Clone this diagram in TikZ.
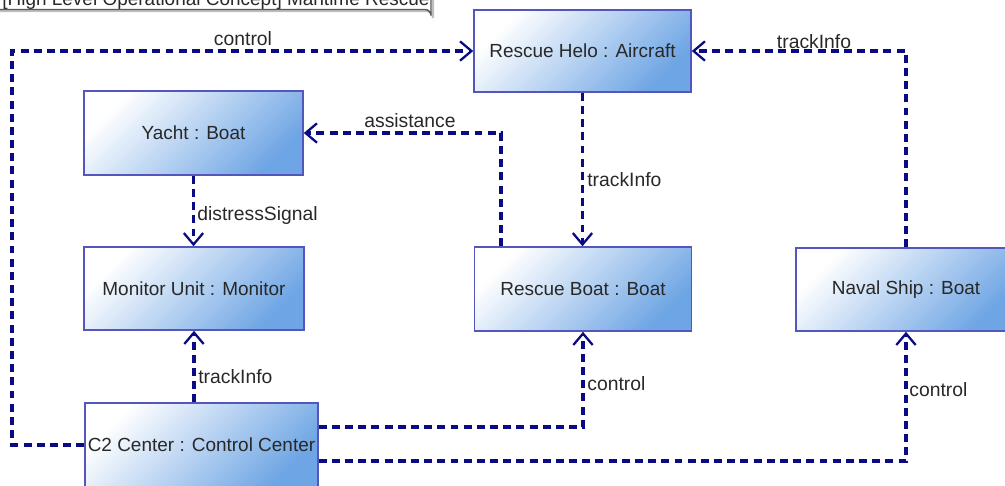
\documentclass[tikz,border=0pt]{standalone}
\usepackage{fontspec}
\setmainfont{Liberation Sans}
\usetikzlibrary{arrows.meta,calc}
\definecolor{navy}{RGB}{10,10,130}
\definecolor{boxblue}{RGB}{110,165,228}
\definecolor{boxedge}{RGB}{85,85,190}
\definecolor{txt}{RGB}{40,40,40}
\tikzset{
  part/.style={draw=boxedge, line width=0.9pt, top color=white, bottom color=boxblue, shading angle=45,
    font=\fontsize{10.8}{12}\selectfont, text=txt, inner sep=0pt},
  conn/.style={draw=navy, line width=2.1pt, dash pattern=on 4.5pt off 3pt,
    -{Straight Barb[length=6.5pt,width=11pt,line width=1.3pt]}},
  lbl/.style={font=\fontsize{11}{12}\selectfont, text=txt, inner sep=0pt},
}
\begin{document}
\begin{tikzpicture}[x=0.02cm, y=-0.02cm]
\useasboundingbox (0,0) rectangle (1005,485);
\clip (0,0) rectangle (1005,485);
% title tab
\draw[gray!50, line width=1.2pt] (-5,11) -- (426,11) arc[start angle=-90, end angle=0, radius=7] -- (433,-10);
\draw[gray!70!black, line width=0.8pt] (-5,9.5) -- (425,9.5) arc[start angle=-90, end angle=0, radius=6] -- (431,-10);
\node[anchor=base west, font=\fontsize{10.8}{12}\selectfont, text=txt, inner sep=0pt] (title) at (2,5) {[High Level Operational Concept] Maritime Rescue};
% parts
\node[part, minimum width=4.34cm, minimum height=1.64cm] (helo) at (582.5,51) {Rescue Helo : Aircraft};
\node[part, minimum width=4.38cm, minimum height=1.68cm] (yacht) at (193.5,133) {Yacht : Boat};
\node[part, minimum width=4.40cm, minimum height=1.66cm] (monitor) at (194,288.5) {Monitor Unit : Monitor};
\node[part, minimum width=4.66cm, minimum height=1.68cm] (c2) at (201.5,445) {C2 Center : Control Center};
\node[part, minimum width=4.34cm, minimum height=1.68cm] (boat) at (583,289) {Rescue Boat : Boat};
\node[part, minimum width=4.40cm, minimum height=1.66cm] (naval) at (906,289.5) {Naval Ship : Boat};
% connectors
\draw[conn] (c2.west) -- ++(-72,0) |- (helo.west);
\draw[conn] (naval.north) |- (helo.east);
\draw[conn] ([xshift=-1.64cm]boat.north) |- (yacht.east);
\draw[conn] (helo.south) -- (helo.south |- boat.north);
\draw[conn] (yacht.south) -- (yacht.south |- monitor.north);
\draw[conn] (monitor.south |- c2.north) -- (monitor.south);
\draw[conn] ([yshift=0.36cm]c2.east) -| (boat.south);
\draw[conn] ([yshift=-0.32cm]c2.east) -| (naval.south);
% labels
\node[lbl] (l1) at (243,39) {control};
\node[lbl] (l2) at (814,42) {trackInfo};
\node[lbl] (l3) at (410,121) {assistance};
\node[lbl, anchor=west] (l4) at (587,180) {trackInfo};
\node[lbl, anchor=west] (l5) at (197,215) {distressSignal};
\node[lbl, anchor=west] (l6) at (198,377) {trackInfo};
\node[lbl, anchor=west] (l7) at (587,384) {control};
\node[lbl, anchor=west] (l8) at (909,390) {control};
\end{tikzpicture}
\end{document}
